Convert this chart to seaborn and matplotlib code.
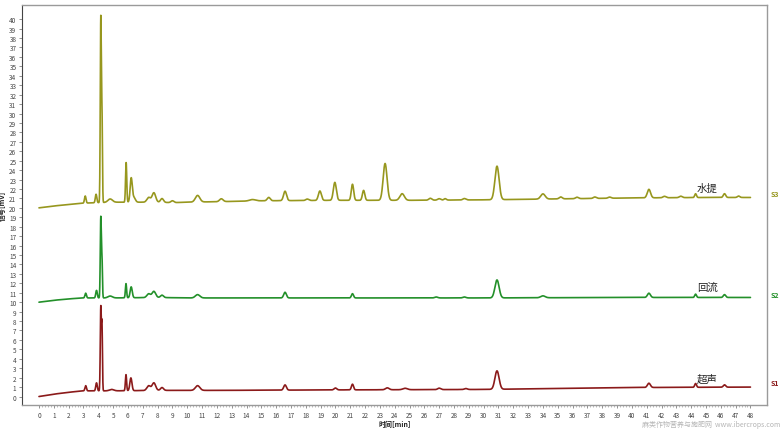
import numpy as np
import pandas as pd
import matplotlib
matplotlib.use("Agg")
import matplotlib.pyplot as plt
import seaborn as sns
from matplotlib.ticker import FixedLocator

# chromatogram of three extracts
# baselines (time in min, signal in mV)
s1_base_t = [0, 1, 2, 3, 4, 5, 8, 10, 12, 20, 30, 35, 40, 48]
s1_base_v = [0.0, 0.25, 0.45, 0.6, 0.6, 0.6, 0.65, 0.65, 0.65, 0.7, 0.75, 0.85, 0.95, 1.0]
s2_base_t = [0, 1, 2, 3, 4, 5, 8, 10, 12, 20, 30, 40, 48]
s2_base_v = [10.0, 10.2, 10.35, 10.45, 10.45, 10.45, 10.5, 10.45, 10.45, 10.45, 10.45, 10.5, 10.5]
s3_base_t = [0, 1, 2, 3, 4, 5, 8, 9, 10, 12, 15, 20, 25, 30, 35, 40, 45, 48]
s3_base_v = [20.0, 20.2, 20.35, 20.5, 20.55, 20.6, 20.6, 20.55, 20.6, 20.65, 20.75, 20.8, 20.8, 20.85, 20.95, 21.05, 21.1, 21.1]

# peak tables: retention time, height above baseline, width (sigma)
s1_rt = [3.15, 3.88, 4.17, 4.25, 4.9, 5.87, 6.2, 7.4, 7.75, 8.3, 10.7, 16.6, 20.0, 21.15, 23.5, 24.7, 27.0, 28.8, 30.9, 41.15, 44.3, 46.25]
s1_height = [0.55, 0.85, 8.85, 6.8, 0.15, 1.7, 1.35, 0.5, 0.8, 0.3, 0.5, 0.55, 0.2, 0.6, 0.2, 0.15, 0.15, 0.1, 1.95, 0.45, 0.4, 0.25]
s1_width = [0.05, 0.05, 0.035, 0.03, 0.15, 0.04, 0.07, 0.12, 0.12, 0.1, 0.15, 0.09, 0.09, 0.07, 0.12, 0.15, 0.1, 0.1, 0.14, 0.1, 0.06, 0.08]

s2_rt = [3.15, 3.88, 4.17, 4.25, 4.8, 5.87, 6.22, 7.4, 7.75, 8.3, 10.7, 16.6, 21.15, 26.8, 28.7, 30.9, 34.0, 41.15, 44.3, 46.25]
s2_height = [0.5, 0.8, 8.55, 3.9, 0.2, 1.5, 1.15, 0.4, 0.65, 0.25, 0.35, 0.6, 0.45, 0.1, 0.1, 1.9, 0.2, 0.45, 0.35, 0.3]
s2_width = [0.05, 0.05, 0.035, 0.03, 0.15, 0.04, 0.07, 0.12, 0.12, 0.1, 0.15, 0.09, 0.07, 0.1, 0.1, 0.14, 0.15, 0.1, 0.06, 0.08]

s3_rt = [3.12, 3.85, 4.17, 4.25, 4.8, 5.88, 6.22, 6.4, 7.4, 7.75, 8.3, 9.0, 10.7, 12.3, 14.4, 15.5, 16.6, 18.1, 18.95, 19.96,
         21.15, 21.9, 23.35, 24.5, 26.4, 27.0, 27.4, 28.7, 30.9, 34.0, 35.2, 36.3, 37.5, 38.5, 41.15, 42.2, 43.3, 44.3, 46.25, 47.2]
s3_height = [0.75, 0.9, 19.6, 8.9, 0.35, 4.2, 2.5, 0.5, 0.5, 1.0, 0.4, 0.2, 0.7, 0.3, 0.15, 0.35, 1.0, 0.15, 1.0, 1.9,
             1.7, 1.05, 3.9, 0.7, 0.2, 0.15, 0.15, 0.15, 3.55, 0.55, 0.2, 0.15, 0.15, 0.12, 0.9, 0.15, 0.15, 0.4, 0.4, 0.15]
s3_width = [0.05, 0.05, 0.035, 0.03, 0.15, 0.04, 0.07, 0.1, 0.12, 0.12, 0.1, 0.1, 0.15, 0.12, 0.2, 0.1, 0.1, 0.1, 0.1, 0.1,
            0.08, 0.08, 0.13, 0.15, 0.1, 0.1, 0.08, 0.1, 0.14, 0.15, 0.1, 0.1, 0.1, 0.1, 0.11, 0.1, 0.1, 0.06, 0.08, 0.08]

samples = ["S1", "S2", "S3"]
methods = ["超声", "回流", "水提"]
colors = ["#8b1a1a", "#23902a", "#97971e"]


def build_trace(base_t, base_v, rt, height, width, t):
    y = np.interp(t, base_t, base_v)
    for r, h, w in zip(rt, height, width):
        y = y + h * np.exp(-0.5 * ((t - r) / w) ** 2)
    return y


t = np.linspace(0, 48, 4801)
frames = []
for name, bt, bv, rt, h, w in [
    ("S1", s1_base_t, s1_base_v, s1_rt, s1_height, s1_width),
    ("S2", s2_base_t, s2_base_v, s2_rt, s2_height, s2_width),
    ("S3", s3_base_t, s3_base_v, s3_rt, s3_height, s3_width),
]:
    frames.append(pd.DataFrame({"time": t, "signal": build_trace(bt, bv, rt, h, w, t), "sample": name}))
df = pd.concat(frames, ignore_index=True)

sns.set_style("white")
plt.rcParams['font.family'] = ['Noto Sans CJK SC', 'DejaVu Sans']

fig = plt.figure(figsize=(7.84, 4.31), dpi=100)
ax = fig.add_axes([0.028, 0.058, 0.95, 0.928])

sns.lineplot(data=df, x="time", y="signal", hue="sample", palette=dict(zip(samples, colors)),
             hue_order=samples, legend=False, linewidth=1.2, estimator=None, sort=False, ax=ax)

ax.set_xlim(-1.15, 49.1)
ax.set_ylim(-0.9, 41.5)
ax.xaxis.set_major_locator(FixedLocator(range(0, 49)))
ax.xaxis.set_minor_locator(FixedLocator(np.arange(0, 48.01, 0.2)))
ax.yaxis.set_major_locator(FixedLocator(range(0, 41)))
ax.tick_params(axis="both", which="major", labelsize=4.6, labelcolor="#444444", length=2.5,
               width=0.5, color="#666666", direction="out", pad=1.5, bottom=True, left=True)
ax.tick_params(axis="x", which="minor", length=1.5, width=0.4, color="#888888", bottom=True)

for side in ["top", "right", "bottom"]:
    ax.spines[side].set_color("#9a9a9a")
    ax.spines[side].set_linewidth(1.0)
ax.spines["left"].set_color("#444444")
ax.spines["left"].set_linewidth(0.8)

ax.set_xlabel("时间[min]", fontsize=5, fontweight="bold", labelpad=1, color="#222222")
ax.set_ylabel("信号[mV]", fontsize=5, fontweight="bold", labelpad=1, color="#222222")
ax.yaxis.set_label_coords(-0.021, 0.5)

label_y = [1.9, 11.6, 22.1]
tag_y = [1.5, 10.8, 21.5]
for name, method, c, ly, ty in zip(samples, methods, colors, label_y, tag_y):
    ax.text(45.1, ly, method, fontsize=7.5, color="#222222", ha="center", va="center")
    ax.text(49.35, ty, name, fontsize=5, color=c, fontweight="bold", ha="left", va="center", clip_on=False)

# faint watermark in the bottom right corner, below the tick labels
fig.text(0.995, 0.014, "麻类作物营养与施肥网  www.ibercrops.com", fontsize=5, color="#b5b5b5",
         ha="right", va="center")

fig.savefig("out.png", dpi=100)
